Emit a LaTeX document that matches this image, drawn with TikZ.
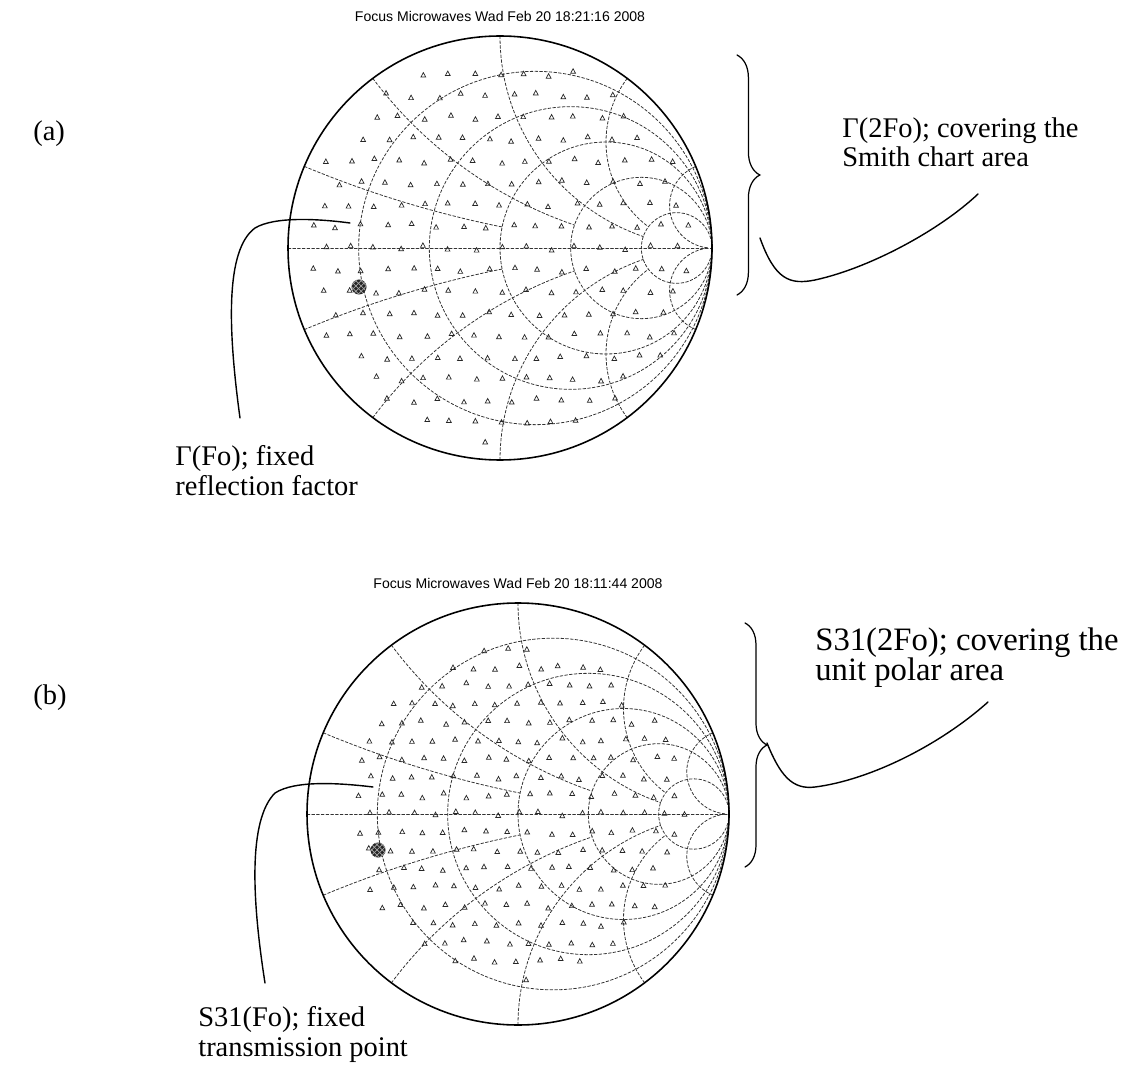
\documentclass[tikz,border=0pt]{standalone}
\usepackage{fontspec}
\setmainfont{Liberation Serif}
\newfontfamily\plotfont{Liberation Sans}
\usetikzlibrary{decorations.pathreplacing,patterns}

\newcommand{\smithgrid}{%
  \foreach \rr in {0.2,0.5,1,2,5}
    \draw[gridline] ({\rr/(1+\rr)},0) circle ({1/(1+\rr)});
  \foreach \xv/\rend in {0.2/1,0.5/2,1/5,2/5,5/100}{
    \pgfmathsetmacro{\xrad}{1/\xv}
    \pgfmathsetmacro{\dnm}{(\rend+1)^2+\xv*\xv}
    \pgfmathsetmacro{\angA}{Mod(atan2(2*\xv/(1+\xv*\xv)-\xrad,(\xv*\xv-1)/(1+\xv*\xv)-1),360)}
    \pgfmathsetmacro{\angB}{Mod(atan2(2*\xv/\dnm-\xrad,(\rend*\rend+\xv*\xv-1)/\dnm-1),360)}
    \draw[gridline] plot[domain=\angA:\angB,samples=60,variable=\t] ({1+\xrad*cos(\t)},{\xrad+\xrad*sin(\t)});
    \draw[gridline] plot[domain=\angA:\angB,samples=60,variable=\t] ({1+\xrad*cos(\t)},{-\xrad-\xrad*sin(\t)});
  }
  \draw[gridline] (-1,0) -- (1,0);
  \draw[rim] (0,0) circle (1);
}

\newcommand{\trimarks}[6]{%
  \pgfmathsetseed{#6}
  \foreach \i in {-9,...,9}
    \foreach \j in {-10,...,10}{
      \pgfmathsetmacro{\gu}{(\i+0.5*Mod(\j,2))*#4+0.012*rand}
      \pgfmathsetmacro{\gv}{0.87*\j*#4+0.012*rand}
      \pgfmathtruncatemacro{\inside}{(\gu*\gu+\gv*\gv)<(#5*#5)}
      \ifnum\inside=1
        \draw[tri] ({#1+#3*\gu},{#2-#3*\gv}) ++(0,-2.7) -- ++(-2.4,4.5) -- ++(4.8,0) -- cycle;
      \fi
    }}

\begin{document}
\begin{tikzpicture}[x=0.02cm,y=-0.02cm,line cap=round,
  gridline/.style={black!80,line width=0.45pt,dash pattern=on 1.6pt off 1.1pt},
  rim/.style={black,line width=0.9pt},
  tri/.style={black!85,line width=0.4pt},
  leader/.style={black,line width=0.8pt},
  fixdot/.style={fill=black!85},
  bracket/.style={black,line width=0.7pt,decorate,decoration={brace,amplitude=#1}},
  lbl/.style={font=\fontsize{16.2}{17}\selectfont,inner sep=0pt,anchor=base west,align=left},
  ttl/.style={font=\plotfont\fontsize{8}{9.6}\selectfont,inner sep=0pt,anchor=base}]
\path[use as bounding box,fill=white] (0,0) rectangle (1129,1074);

\node[ttl] (ttla) at (500,22) {Focus Microwaves Wad Feb 20 18:21:16 2008};
\begin{scope}[shift={(500,248)},scale=212,yscale=-1]
\smithgrid
\end{scope}
\trimarks{500}{248}{212}{0.118}{0.92}{11}
\fill[fixdot] (359,287) circle (7.5);
\path[pattern=crosshatch,pattern color=black!35] (359,287) circle (7.5);

\node[ttl] (ttlb) at (518,588) {Focus Microwaves Wad Feb 20 18:11:44 2008};
\begin{scope}[shift={(518,814)},scale=211,yscale=-1]
\smithgrid
\end{scope}
\trimarks{518}{814}{211}{0.1}{0.79}{5}
\fill[fixdot] (378,850) circle (7.5);
\path[pattern=crosshatch,pattern color=black!35] (378,850) circle (7.5);

\node[lbl] (taga) at (33,141) {(a)};
\node[lbl] (tagb) at (33,704) {(b)};
\node[lbl] (harma) at (842,167) {Γ(2Fo); covering the\\Smith chart area};
\node[lbl] (funda) at (175,495) {Γ(Fo); fixed\\reflection factor};
\node[lbl,font=\fontsize{18.6}{17}\selectfont] (harmb) at (815,680) {S31(2Fo); covering the\\unit polar area};
\node[lbl] (fundb) at (198,1056) {S31(Fo); fixed\\transmission point};

\draw[bracket=13pt] (737,55) -- (737,295);
\draw[bracket=12.5pt] (745,623) -- (745,867);

\coordinate (taila) at (760,238);
\coordinate (heada) at (978,194);
\coordinate (tailb) at (767,743);
\coordinate (headb) at (988,702);
\coordinate (pina) at (240,418);
\coordinate (pta) at (350,223);
\coordinate (pinb) at (265,983);
\coordinate (ptb) at (373,787);

\draw[leader] (taila) .. controls (775,280) and (790,285) .. (815,280) .. controls (870,268) and (940,230) .. (heada);
\draw[leader] (tailb) .. controls (780,775) and (792,790) .. (815,787) .. controls (870,780) and (940,745) .. (headb);
\draw[leader] (pina) .. controls (228,330) and (225,250) .. (255,228) .. controls (275,216) and (320,219) .. (pta);
\draw[leader] (pinb) .. controls (252,900) and (248,820) .. (275,793) .. controls (295,780) and (340,783) .. (ptb);
\end{tikzpicture}
\end{document}
